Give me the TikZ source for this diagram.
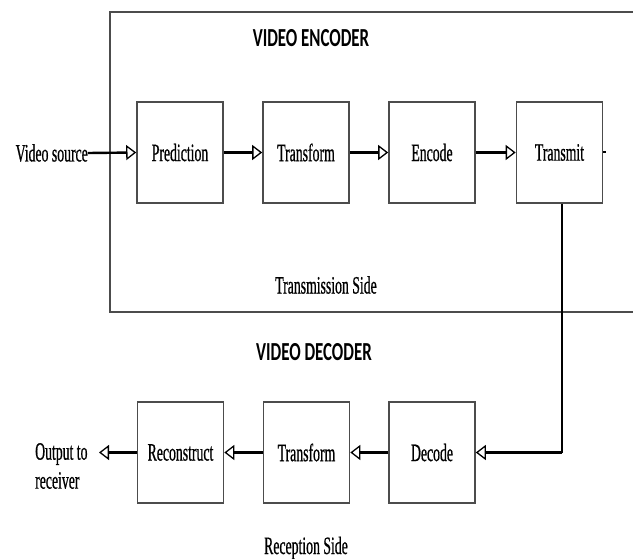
\documentclass[tikz,border=0pt]{standalone}
\usepackage{fontspec}
\setmainfont[FakeStretch=0.55, FakeBold=0.6]{Liberation Serif}
\newfontfamily\headfont[FakeStretch=0.65]{Carlito}
\usetikzlibrary{arrows.meta}
\begin{document}
\begin{tikzpicture}[x=1pt,y=-1pt,
  blk/.style={draw=black!70, line width=1.6pt, minimum width=86pt, minimum height=101pt, inner sep=0pt, font=\fontsize{25}{29}\selectfont},
  lbl/.style={inner sep=0pt, font=\fontsize{25}{29}\selectfont},
  head/.style={inner sep=0pt, font=\headfont\bfseries\fontsize{26}{30}\selectfont},
  conn/.style={line width=2.4pt, -{Triangle[open, length=10pt, width=15pt, line width=1.3pt]}},
  wire/.style={line width=2.4pt}]
\useasboundingbox (0,0) rectangle (633,559);
\fill[white] (0,0) rectangle (633,559);
% encoder frame
\draw[draw=black!70, line width=1.6pt] (640,12) -- (110,12) -- (110,312) -- (640,312);
\node[head] (enc) at (311,38) {VIDEO ENCODER};
\node[lbl] (ts) at (326,285) {Transmission Side};
% upper row
\node[blk] (pred) at (180,152.5) {Prediction};
\node[blk] (tf1) at (306,152.5) {Transform};
\node[blk] (encd) at (432,152.5) {Encode};
\node[blk] (tx) at (559.5,152.5) {Transmit};
\node[lbl, anchor=east] (vs) at (88,153) {Video source};
\draw[conn] (vs.east) -- (pred.west);
\draw[conn] (pred.east) -- (tf1.west);
\draw[conn] (tf1.east) -- (encd.west);
\draw[conn] (encd.east) -- (tx.west);
\draw[line width=2pt] (tx.east) -- ++(3,0);
% decoder
\node[head] (dechead) at (314,352) {VIDEO DECODER};
\node[lbl] (rs) at (306,548) {Reception Side};
\node[blk] (rec) at (180.5,452.5) {Reconstruct};
\node[blk] (tf2) at (306.5,452.5) {Transform};
\node[blk] (dec) at (432,452.5) {Decode};
\node[lbl, anchor=west, align=left] (out) at (35,466) {Output to\\receiver};
\coordinate (bend) at (562,452.5);
\draw[wire] (bend |- tx.south) -- (bend);
\draw[conn] (bend) -- (dec.east);
\draw[conn] (dec.west) -- (tf2.east);
\draw[conn] (tf2.west) -- (rec.east);
\draw[conn] (rec.west) -- (99,452.5);
\end{tikzpicture}
\end{document}
